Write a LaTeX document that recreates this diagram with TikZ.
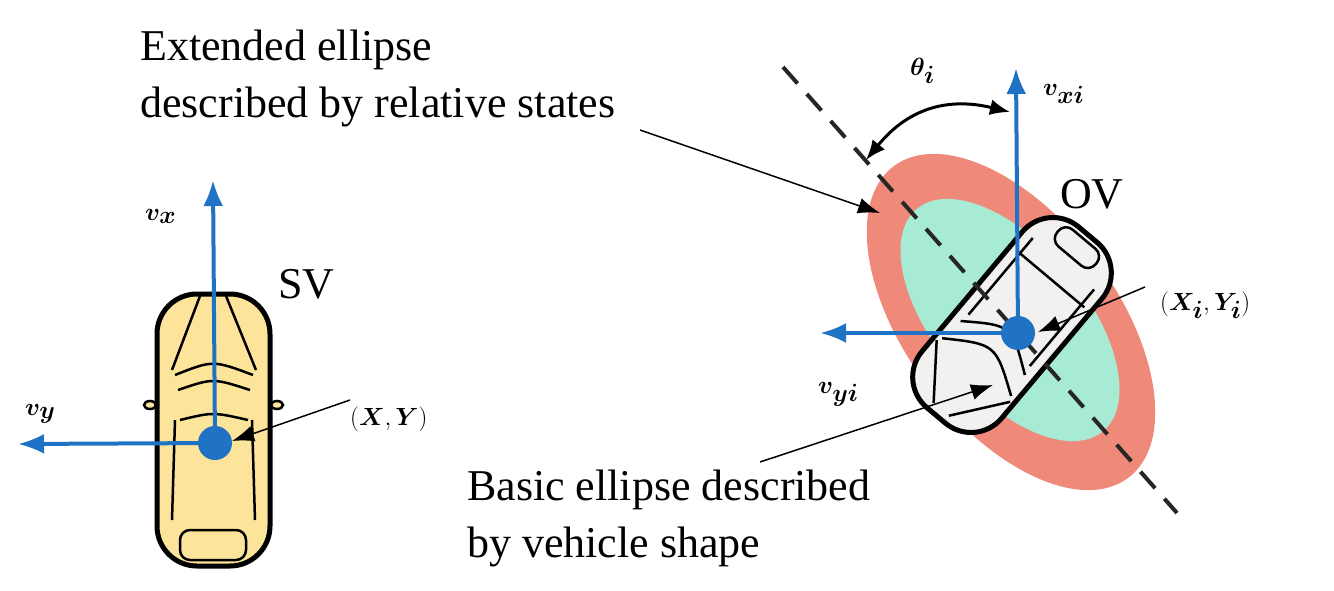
\documentclass[tikz,border=0pt]{standalone}
\usepackage{amsmath}
\usepackage{bm}
\usepackage{fontspec}
\setmainfont{Liberation Serif}
\usetikzlibrary{arrows.meta}
\definecolor{vblue}{HTML}{1F72C4}
\definecolor{ered}{HTML}{EF8A7A}
\definecolor{bgreen}{HTML}{A8EBD5}
\definecolor{svy}{HTML}{FCE49A}
\definecolor{ovw}{HTML}{F2F1EF}
\begin{document}
\begin{tikzpicture}[x=1pt,y=-1pt,
  lbl/.style={anchor=base west,inner sep=0pt,font=\fontsize{44}{56}\selectfont},
  vel/.style={draw=vblue,line width=4pt,-{Latex[length=26pt,width=20pt]}},
  lead/.style={draw=black,line width=1.5pt,-{Latex[length=22pt,width=16pt]}},
  carbody/.style={draw=black,line width=5pt,rounded corners=40pt},
  carline/.style={draw=black,line width=2.5pt}]
\useasboundingbox (0,0) rectangle (1334,590);
% ellipses
\fill[ered,rotate around={-53:(1011,322)}] (1011,322) ellipse [x radius=195,y radius=105];
\fill[bgreen,rotate around={-50:(1010,320)}] (1010,320) ellipse [x radius=145,y radius=75];
% OV car
\begin{scope}[shift={(1012,325)},rotate=-130]
  \path[carbody,fill=ovw] (-118,-52) rectangle (118,52);
  \draw[carline] (55,-45) .. controls (25,0) .. (55,45);
  \draw[carline] (30,-42) .. controls (0,0) .. (30,42);
  \draw[carline] (-60,-44) -- (-60,44);
  \draw[carline] (60,-48) -- (110,-10);
  \draw[carline] (60,48) -- (110,10);
  \draw[carline,rounded corners=10pt] (-112,-25) rectangle (-90,25);
  \draw[carline] (-80,-40) -- (20,-40);
  \draw[carline] (-80,40) -- (20,40);
\end{scope}
\draw[black!85,line width=4pt,dash pattern=on 22pt off 14pt] (783,67) -- (1177,513);
% SV car
\path[carbody,fill=svy] (157,294) rectangle (270,566);
\draw[carline] (175,375) .. controls (213,360) .. (253,375);
\draw[carline] (178,390) .. controls (213,378) .. (250,390);
\draw[carline] (180,420) .. controls (213,412) .. (248,420);
\draw[carline] (200,296) -- (172,370);
\draw[carline] (226,296) -- (256,370);
\draw[carline] (175,420) -- (172,520);
\draw[carline] (252,420) -- (255,520);
\draw[carline,rounded corners=10pt] (180,530) rectangle (246,560);
\draw[carline,fill=svy] (150,405) ellipse [x radius=6,y radius=4];
\draw[carline,fill=svy] (277,405) ellipse [x radius=6,y radius=4];
% SV arrows
\coordinate (svc) at (215,443);
\coordinate (vxt) at (213,180);
\coordinate (vyt) at (18,444);
\draw[vel] (svc) -- (vxt);
\draw[vel] (svc) -- (vyt);
\fill[vblue] (svc) circle (17);
% OV arrows
\coordinate (ovc) at (1018,333);
\coordinate (vxit) at (1016,68);
\coordinate (vyit) at (820,333);
\draw[vel] (ovc) -- (vxit);
\draw[vel] (ovc) -- (vyit);
\fill[vblue] (ovc) circle (17);
% theta arc
\coordinate (th1) at (1010,112);
\coordinate (th2) at (866,160);
\draw[black,line width=3pt,{Latex[length=20pt,width=16pt]}-{Latex[length=20pt,width=16pt]}] (th2) .. controls (915,100) and (960,100) .. (th1);
% leaders
\coordinate (l1s) at (640,130); \coordinate (l1e) at (880,213);
\coordinate (l2s) at (760,462); \coordinate (l2e) at (993,385);
\coordinate (l3s) at (1145,287); \coordinate (l3e) at (1038,332);
\coordinate (l4s) at (350,400); \coordinate (l4e) at (232,441);
\draw[lead] (l1s) -- (l1e);
\draw[lead] (l2s) -- (l2e);
\draw[lead] (l3s) -- (l3e);
\draw[lead] (l4s) -- (l4e);
% labels
\node[lbl] (t1) at (140,60) {Extended ellipse};
\node[lbl] (t2) at (140,117) {described by relative states};
\node[lbl] (t3) at (467,500) {Basic ellipse described};
\node[lbl] (t4) at (467,557) {by vehicle shape};
\node[lbl] (sv) at (278,298) {SV};
\node[lbl] (ov) at (1060,208) {OV};
\node[lbl] (xy) at (350,425) {$(\bm{X},\bm{Y})$};
\node[lbl] (xiyi) at (1160,310) {$(\bm{X_i},\bm{Y_i})$};
\node[lbl] (vx) at (145,220) {$\bm{v_x}$};
\node[lbl] (vy) at (25,415) {$\bm{v_y}$};
\node[lbl] (th) at (910,75) {$\bm{\theta_i}$};
\node[lbl] (vxi) at (1043,95) {$\bm{v_{xi}}$};
\node[lbl] (vyi) at (818,393) {$\bm{v_{yi}}$};
\end{tikzpicture}
\end{document}
